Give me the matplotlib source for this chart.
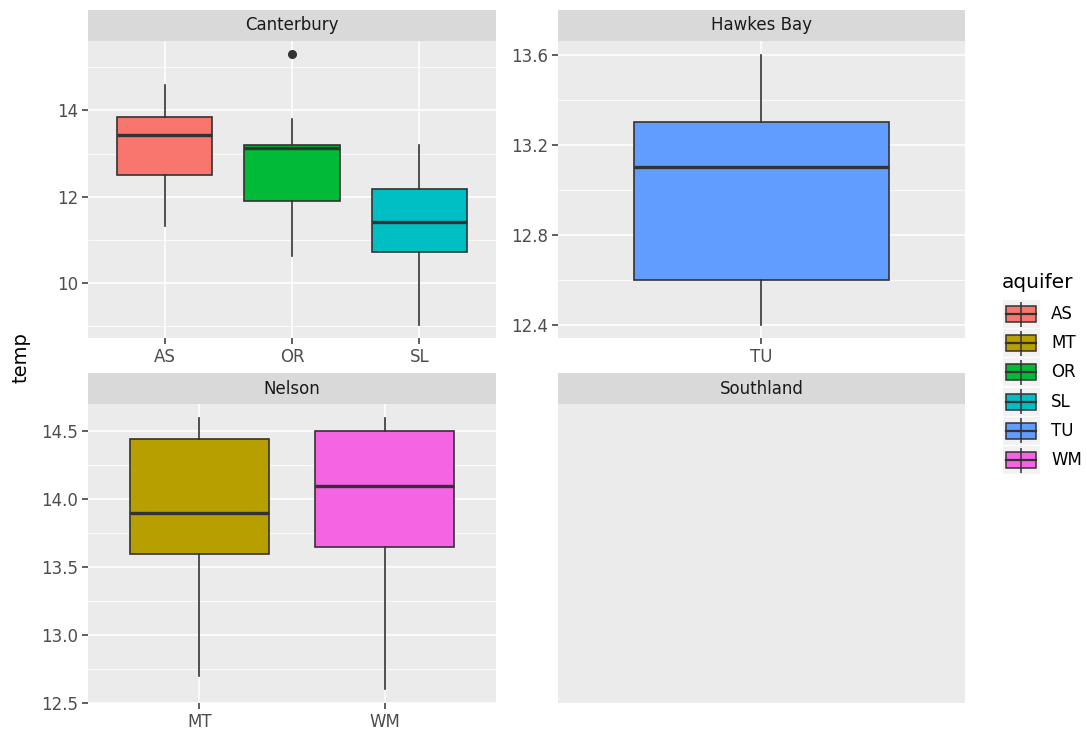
import matplotlib
matplotlib.use("Agg")
import matplotlib.pyplot as plt
from matplotlib.patches import Rectangle

#=================
# data
#=================
regions = ["Canterbury", "Hawkes Bay", "Nelson", "Southland"]

cant_aquifers = ["AS", "OR", "SL"]
cant_low = [11.32, 10.62, 9.03]
cant_q1 = [12.50, 11.90, 10.72]
cant_med = [13.43, 13.13, 11.42]
cant_q3 = [13.85, 13.20, 12.17]
cant_high = [14.60, 13.80, 13.20]
cant_outliers = [[], [15.30], []]
cant_ticks = [10, 12, 14]
cant_ticklabels = ["10", "12", "14"]
cant_minor = [9, 11, 13, 15]

hb_aquifers = ["TU"]
hb_low = [12.40]
hb_q1 = [12.60]
hb_med = [13.10]
hb_q3 = [13.30]
hb_high = [13.60]
hb_outliers = [[]]
hb_ticks = [12.4, 12.8, 13.2, 13.6]
hb_ticklabels = ["12.4", "12.8", "13.2", "13.6"]
hb_minor = [12.6, 13.0, 13.4]

nel_aquifers = ["MT", "WM"]
nel_low = [12.70, 12.60]
nel_q1 = [13.60, 13.65]
nel_med = [13.90, 14.10]
nel_q3 = [14.44, 14.50]
nel_high = [14.60, 14.60]
nel_outliers = [[], []]
nel_ticks = [12.5, 13.0, 13.5, 14.0, 14.5]
nel_ticklabels = ["12.5", "13.0", "13.5", "14.0", "14.5"]
nel_minor = [12.75, 13.25, 13.75, 14.25]

legend_aquifers = ["AS", "MT", "OR", "SL", "TU", "WM"]
aquifer_colors = {
    "AS": "#F8766D",
    "MT": "#B79F00",
    "OR": "#00BA38",
    "SL": "#00BFC4",
    "TU": "#619CFF",
    "WM": "#F564E3",
}

#=================
# style
#=================
W, H = 1087, 729
PANEL_BG = "#EBEBEB"
STRIP_BG = "#D9D9D9"
LINE_COL = "#333333"
TEXT_COL = "#4D4D4D"

plt.rcParams["font.family"] = ["DejaVu Sans"]

fig = plt.figure(figsize=(W / 100, H / 100), dpi=100)
fig.patch.set_facecolor("white")


def px_axes(x0, y0, x1, y1):
    return fig.add_axes([x0 / W, 1 - y1 / H, (x1 - x0) / W, (y1 - y0) / H])


def add_strip(x0, y0, x1, y1, title):
    sax = px_axes(x0, y0, x1, y1)
    sax.set_facecolor(STRIP_BG)
    sax.set_xticks([])
    sax.set_yticks([])
    for s in sax.spines.values():
        s.set_visible(False)
    sax.text(0.5, 0.5, title, ha="center", va="center", fontsize=12,
             color="#1A1A1A", transform=sax.transAxes)


def style_panel(ax):
    ax.set_facecolor(PANEL_BG)
    for s in ax.spines.values():
        s.set_visible(False)
    ax.set_axisbelow(True)


def draw_panel(rect, title, aquifers, low, q1, med, q3, high, outliers,
               ticks, ticklabels, minor):
    x0, y0, x1, y1 = rect
    add_strip(x0, y0, x1, y0 + 31, title)
    ax = px_axes(x0, y0 + 31, x1, y1)
    style_panel(ax)

    stats = []
    for i, name in enumerate(aquifers):
        stats.append({
            "label": name,
            "whislo": low[i],
            "q1": q1[i],
            "med": med[i],
            "q3": q3[i],
            "whishi": high[i],
            "fliers": outliers[i],
        })

    positions = list(range(1, len(aquifers) + 1))
    bp = ax.bxp(
        stats,
        positions=positions,
        widths=0.75,
        patch_artist=True,
        showcaps=False,
        boxprops=dict(edgecolor=LINE_COL, linewidth=1.2),
        medianprops=dict(color=LINE_COL, linewidth=2.4),
        whiskerprops=dict(color=LINE_COL, linewidth=1.2),
        flierprops=dict(marker="o", markerfacecolor=LINE_COL,
                        markeredgecolor=LINE_COL, markersize=5.5),
        manage_ticks=False,
    )
    for patch, name in zip(bp["boxes"], aquifers):
        patch.set_facecolor(aquifer_colors[name])

    # discrete x scale expansion, 5% expansion on the continuous y scale
    ax.set_xlim(0.4, len(aquifers) + 0.6)
    all_vals = low + high + [v for f in outliers for v in f]
    lo, hi = min(all_vals), max(all_vals)
    pad = (hi - lo) * 0.05
    ax.set_ylim(lo - pad, hi + pad)

    ax.set_xticks(positions)
    ax.set_xticklabels(aquifers)
    ax.set_yticks(ticks)
    ax.set_yticklabels(ticklabels)
    ax.set_yticks(minor, minor=True)
    ax.grid(True, which="major", color="white", linewidth=1.1)
    ax.grid(True, which="minor", axis="y", color="white", linewidth=0.55)
    ax.tick_params(which="major", length=4, width=1.1, color=LINE_COL,
                   labelsize=12, labelcolor=TEXT_COL, pad=3)
    ax.tick_params(which="minor", length=0)
    return ax


#=================
# panels
#=================
draw_panel((88, 10, 496, 338), regions[0], cant_aquifers, cant_low, cant_q1,
           cant_med, cant_q3, cant_high, cant_outliers,
           cant_ticks, cant_ticklabels, cant_minor)

draw_panel((558, 10, 965, 338), regions[1], hb_aquifers, hb_low, hb_q1,
           hb_med, hb_q3, hb_high, hb_outliers,
           hb_ticks, hb_ticklabels, hb_minor)

draw_panel((88, 373, 496, 703), regions[2], nel_aquifers, nel_low, nel_q1,
           nel_med, nel_q3, nel_high, nel_outliers,
           nel_ticks, nel_ticklabels, nel_minor)

# Southland has no observations: strip and empty panel only
add_strip(558, 373, 965, 404, regions[3])
empty_ax = px_axes(558, 404, 965, 703)
style_panel(empty_ax)
empty_ax.set_xticks([])
empty_ax.set_yticks([])

fig.text(21 / W, 1 - 358 / H, "temp", rotation=90, ha="center", va="center",
         fontsize=14, color="black")

#=================
# legend
#=================
lax = fig.add_axes([0, 0, 1, 1])
lax.set_xlim(0, W)
lax.set_ylim(H, 0)
lax.axis("off")
lax.patch.set_alpha(0)

lax.text(1002, 282, "aquifer", ha="left", va="center", fontsize=14.5,
         color="black")

row_h = 29.2
for i, name in enumerate(legend_aquifers):
    cy = 314 + i * row_h
    lax.add_patch(Rectangle((1003, cy - 14), 37, 28, facecolor="#F2F2F2",
                            edgecolor="none"))
    lax.plot([1020.5, 1020.5], [cy - 12.5, cy + 12.5], color=LINE_COL,
             linewidth=1.1, solid_capstyle="butt")
    lax.add_patch(Rectangle((1005.5, cy - 8), 30.5, 16,
                            facecolor=aquifer_colors[name],
                            edgecolor=LINE_COL, linewidth=1.1))
    lax.plot([1005.5, 1036], [cy, cy], color=LINE_COL, linewidth=1.6)
    lax.text(1051, cy, name, ha="left", va="center", fontsize=12,
             color="black")

fig.savefig("out.png", dpi=100)
